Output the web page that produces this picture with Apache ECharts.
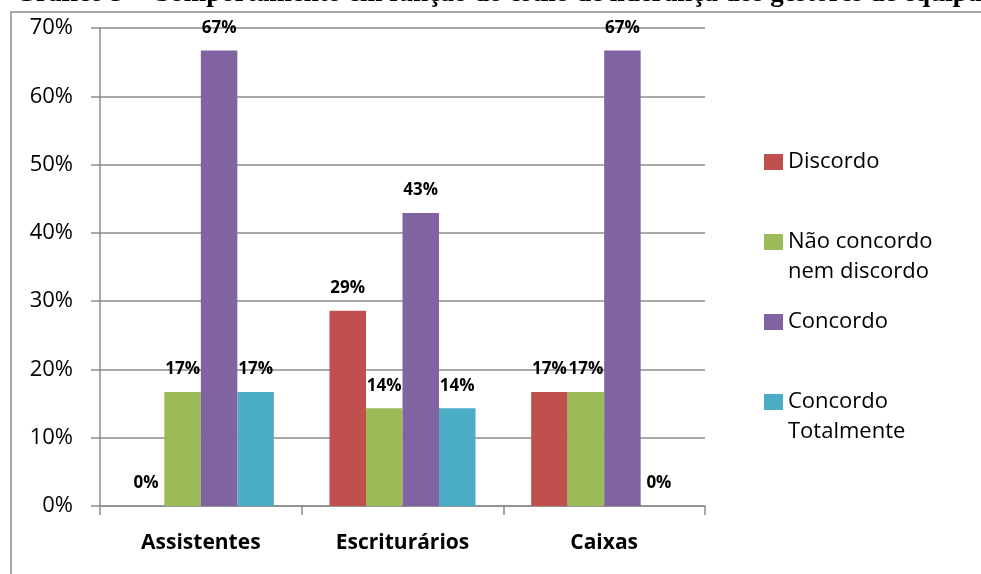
<!DOCTYPE html>
<html>
<head>
<meta charset="utf-8">
<script src="https://cdn.jsdelivr.net/npm/echarts@6/dist/echarts.min.js"></script>
<style>html,body{margin:0;padding:0;background:#fff}#c{width:981px;height:574px}</style>
</head>
<body>
<div id="c"></div>
<script>
const categories = ['Assistentes', 'Escriturários', 'Caixas'];
const seriesNames = ['Discordo', 'Não concordo\nnem discordo', 'Concordo', 'Concordo\nTotalmente'];
const discordo = [0, 28.6, 16.7];
const naoConcordo = [16.7, 14.3, 16.7];
const concordo = [66.7, 42.9, 66.7];
const concordoTotalmente = [16.7, 14.3, 0];
const yTicks = [0, 10, 20, 30, 40, 50, 60, 70];
const titleText = 'Gráfico 5 – Comportamento em função do estilo de liderança dos gestores de equipa';

const colors = ['#C0504D', '#9BBB59', '#8064A2', '#4BACC6'];
const values = [discordo, naoConcordo, concordo, concordoTotalmente];
const FONT = 'Open Sans';

const chart = echarts.init(document.getElementById('c'), null, {renderer: 'canvas'});
chart.setOption({
  animation: false,
  backgroundColor: '#fff',
  graphic: [
    {type: 'rect', shape: {x: 11, y: 12, width: 1000, height: 600}, style: {fill: 'none', stroke: '#8c8c8c', lineWidth: 1.5}, z: -1},
    {type: 'text', left: 15, top: -19, style: {text: titleText, font: 'bold 27px "Liberation Serif"', fill: '#000'}}
  ],
  grid: {left: 100, right: 276, top: 28, bottom: 68, containLabel: false},
  legend: {
    orient: 'vertical',
    left: 764,
    top: 147,
    padding: 0,
    itemGap: 20,
    itemWidth: 19,
    itemHeight: 46,
    icon: 'path://M0,0L19,0L19,16L0,16Z M0,46L0.01,46',
    formatter: function (n) { return n.indexOf('\n') >= 0 ? n : n + '\n '; },
    textStyle: {fontFamily: FONT, fontSize: 22, lineHeight: 30, color: '#000'},
    data: seriesNames
  },
  xAxis: {
    type: 'category',
    data: categories,
    axisLine: {lineStyle: {color: '#8c8c8c', width: 1.5}},
    axisTick: {show: true, length: 9, lineStyle: {color: '#8c8c8c', width: 1.5}},
    axisLabel: {margin: 27, fontFamily: FONT, fontSize: 21, fontWeight: 'bold', color: '#000'}
  },
  yAxis: {
    type: 'value',
    min: 0, max: 70, interval: 10,
    axisLine: {show: true, lineStyle: {color: '#8c8c8c', width: 1.5}},
    axisTick: {show: true, length: 9, lineStyle: {color: '#8c8c8c', width: 1.5}},
    splitLine: {lineStyle: {color: '#8c8c8c', width: 1.5}},
    axisLabel: {
      margin: 27, fontFamily: FONT, fontSize: 22, color: '#000',
      customValues: yTicks,
      formatter: function (v) { return v + '%'; }
    }
  },
  series: values.map(function (arr, i) {
    return {
      name: seriesNames[i],
      type: 'bar',
      data: arr,
      barGap: '0%',
      barCategoryGap: '27.6%',
      itemStyle: {color: colors[i]},
      label: {
        show: true, position: 'top', distance: 14,
        fontFamily: FONT, fontSize: 17, fontWeight: 'bold', color: '#000',
        formatter: function (p) { return Math.round(p.value) + '%'; }
      }
    };
  })
});
</script>
</body>
</html>
